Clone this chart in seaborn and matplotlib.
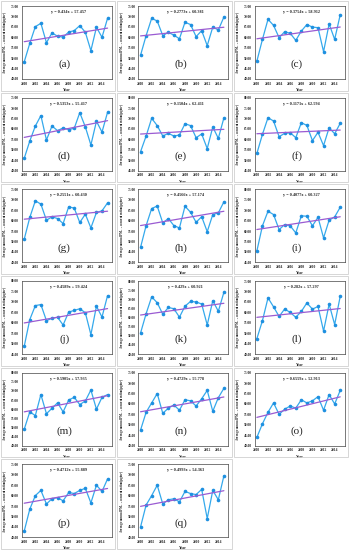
import matplotlib
matplotlib.use("Agg")
import matplotlib.pyplot as plt
import seaborn as sns
import numpy as np
import pandas as pd
from matplotlib.patches import Rectangle

sns.set_style("white")
plt.rcParams['font.family'] = ['Liberation Serif', 'DejaVu Sans']

years = list(range(2000, 2016))
labels = ['a', 'b', 'c', 'd', 'e', 'f', 'g', 'h', 'i', 'j', 'k', 'l', 'm', 'n', 'o', 'p', 'q']

pm_a = [48.2, 57.1, 65.1, 66.7, 57.4, 62.1, 60.5, 60.1, 62.5, 63.2, 65.6, 62.4, 53.6, 64.8, 60.0, 69.1]
pm_b = [51.4, 60.8, 69.1, 67.8, 60.8, 62.4, 61.0, 59.3, 67.2, 66.1, 60.3, 63.2, 56.0, 64.9, 63.5, 69.7]
pm_c = [48.6, 59.0, 68.6, 65.7, 59.8, 62.7, 61.9, 58.5, 63.0, 66.1, 64.9, 64.6, 53.1, 66.4, 59.0, 70.8]
pm_d = [45.9, 54.2, 61.4, 66.4, 54.7, 61.4, 59.2, 60.5, 59.7, 60.3, 67.8, 61.0, 52.3, 63.7, 58.5, 68.0]
pm_e = [54.1, 61.6, 70.1, 66.6, 61.6, 62.9, 61.6, 62.1, 67.5, 66.6, 60.8, 62.6, 55.6, 65.9, 60.5, 70.3]
pm_f = [53.3, 62.4, 70.4, 68.8, 61.3, 62.9, 63.2, 60.8, 68.0, 66.7, 59.4, 63.4, 57.0, 65.6, 62.7, 67.7]
pm_g = [51.1, 61.5, 69.5, 67.9, 60.2, 61.8, 61.0, 58.6, 66.6, 66.0, 59.1, 63.1, 56.5, 63.9, 64.7, 68.5]
pm_h = [47.2, 57.6, 65.8, 67.0, 58.9, 61.0, 57.6, 56.5, 66.9, 64.0, 59.2, 61.9, 54.7, 62.9, 63.7, 69.0]
pm_i = [50.5, 62.5, 69.5, 67.9, 60.7, 63.1, 62.5, 59.1, 67.3, 67.1, 62.5, 66.6, 56.7, 65.2, 66.8, 71.4]
pm_j = [48.7, 61.5, 68.2, 68.7, 61.0, 62.1, 62.6, 58.9, 65.1, 65.9, 66.7, 64.8, 54.3, 67.9, 62.7, 73.0]
pm_k = [51.5, 62.1, 71.3, 68.1, 61.8, 65.5, 64.8, 60.2, 66.2, 68.8, 68.5, 67.4, 55.9, 69.2, 63.4, 73.8]
pm_l = [47.4, 56.0, 66.9, 62.6, 58.0, 61.6, 59.9, 57.6, 60.4, 64.5, 61.5, 62.8, 51.0, 63.9, 54.1, 67.7]
pm_m = [49.0, 58.5, 56.5, 68.0, 57.5, 60.5, 63.5, 58.5, 65.0, 66.5, 62.5, 64.5, 70.5, 60.0, 66.5, 68.0]
pm_n = [47.5, 56.0, 60.5, 65.0, 55.5, 58.0, 59.5, 57.0, 62.0, 61.5, 59.0, 62.5, 66.5, 56.5, 63.0, 67.5]
pm_o = [44.0, 50.5, 56.0, 60.5, 55.0, 57.5, 59.0, 58.0, 62.0, 60.5, 61.5, 63.5, 57.0, 64.5, 60.0, 66.5]
pm_p = [43.0, 53.5, 60.0, 62.5, 56.0, 58.5, 59.0, 57.5, 61.5, 61.0, 62.5, 63.5, 56.5, 65.0, 62.0, 68.0]
pm_q = [45.0, 55.5, 60.0, 65.0, 56.0, 58.0, 58.5, 57.0, 62.0, 61.0, 60.5, 63.0, 49.0, 62.5, 58.0, 69.5]

slopes = [0.434, 0.2773, 0.3754, 0.5353, 0.1504, 0.1171, 0.2551, 0.4566, 0.4077,
          0.4589, 0.429, 0.282, 0.5905, 0.4729, 0.6559, 0.4712, 0.4993]
intercepts = [57.457, 60.381, 58.912, 55.417, 62.411, 62.594, 60.430, 57.174, 60.327,
              59.424, 60.921, 57.297, 57.935, 55.778, 52.913, 55.889, 54.363]
eq_texts = ['y = 0.434x + 57.457', 'y = 0.2773x + 60.381', 'y = 0.3754x + 58.912',
            'y = 0.5353x + 55.417', 'y = 0.1504x + 62.411', 'y = 0.1171x + 62.594',
            'y = 0.2551x + 60.430', 'y = 0.4566x + 57.174', 'y = 0.4077x + 60.327',
            'y = 0.4589x + 59.424', 'y = 0.429x + 60.921', 'y = 0.282x + 57.297',
            'y = 0.5905x + 57.935', 'y = 0.4729x + 55.778', 'y = 0.6559x + 52.913',
            'y = 0.4712x + 55.889', 'y = 0.4993x + 54.363']
ylims = [(40, 75), (40, 75), (40, 75), (40, 75), (45, 80), (45, 80), (40, 75), (40, 75),
         (45, 80), (45, 80), (40, 80), (40, 75), (40, 80), (40, 75), (40, 75), (40, 75), (40, 75)]
series = [pm_a, pm_b, pm_c, pm_d, pm_e, pm_f, pm_g, pm_h, pm_i, pm_j, pm_k, pm_l,
          pm_m, pm_n, pm_o, pm_p, pm_q]

W, H = 349, 550
fig = plt.figure(figsize=(W / 100, H / 100), dpi=100)
pw, ph = W / 3.0, H / 6.0

line_col = '#35A9EC'
mark_col = '#1E90E0'
trend_col = '#9A5BD2'

for i, lab in enumerate(labels):
    r, c = divmod(i, 3)
    x0 = c * pw
    y0 = r * ph  # top in pixels
    fig.patches.append(Rectangle(((x0 + 1) / W, 1 - (y0 + ph - 1) / H), (pw - 2) / W, (ph - 2) / H,
                                 transform=fig.transFigure, fill=False, edgecolor='#D0D0D0', lw=0.6))
    axl, axr, axt, axb = 22, 112, 6, 79
    ax = fig.add_axes([(x0 + axl) / W, 1 - (y0 + axb) / H, (axr - axl) / W, (axb - axt) / H])
    df = pd.DataFrame({'Year': years, 'PM': series[i]})
    sns.lineplot(data=df, x='Year', y='PM', ax=ax, color=line_col, lw=0.9,
                 marker='o', markersize=2.6, markeredgewidth=0, markerfacecolor=mark_col)
    xs = np.array(years)
    tr = pd.DataFrame({'Year': xs, 'T': slopes[i] * (xs - 1999) + intercepts[i]})
    sns.lineplot(data=tr, x='Year', y='T', ax=ax, color=trend_col, lw=0.9)
    lo, hi = ylims[i]
    ax.set_ylim(lo, hi)
    ax.set_yticks(np.arange(lo, hi + 0.1, 5))
    ax.set_yticklabels([f'{v:.2f}' for v in np.arange(lo, hi + 0.1, 5)], fontsize=2.6, fontweight='bold')
    ax.set_xlim(1999.6, 2015.8)
    ax.set_xticks(range(2000, 2015, 2))
    ax.set_xticklabels([str(v) for v in range(2000, 2015, 2)], fontsize=2.6, fontweight='bold')
    ax.tick_params(length=1, width=0.4, pad=1)
    for s in ax.spines.values():
        s.set_linewidth(0.5)
        s.set_color('#444444')
    ax.set_xlabel('Year', fontsize=2.8, fontweight='bold', labelpad=1.5)
    ax.set_ylabel('Average annual PM$_{2.5}$ concentration(μg/m³)', fontsize=2.3,
                  fontweight='bold', labelpad=1.2)
    ax.text(0.52, 0.92, eq_texts[i], transform=ax.transAxes, ha='center', va='center',
            fontsize=3.1, fontweight='bold')
    ax.text(0.47, 0.2, f'({lab})', transform=ax.transAxes, ha='center', va='center',
            fontsize=8)

fig.savefig('out.png', dpi=100)
